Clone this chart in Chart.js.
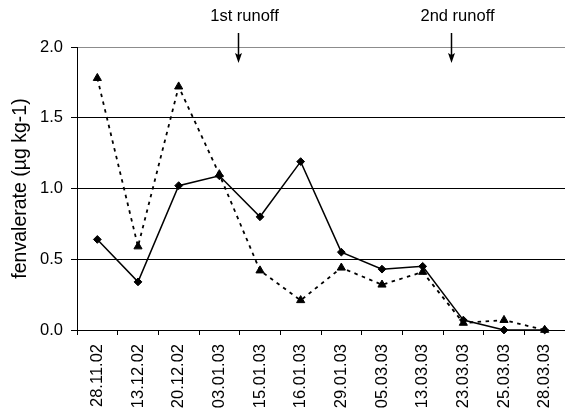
<!DOCTYPE html>
<html>
<head>
<meta charset="utf-8">
<script src="https://cdn.jsdelivr.net/npm/chart.js@4"></script>
<style>
  html, body { margin: 0; padding: 0; background: #fff; }
  #wrap { width: 565px; height: 417px; position: relative; }
</style>
</head>
<body>
<div id="wrap"><canvas id="c"></canvas></div>
<script>
// Sampling dates
const dates = ['28.11.02', '13.12.02', '20.12.02', '03.01.03', '15.01.03', '16.01.03',
               '29.01.03', '05.03.03', '13.03.03', '23.03.03', '25.03.03', '28.03.03'];

// Fenvalerate concentrations (µg kg-1)
const seriesDiamond  = [0.64, 0.34, 1.02, 1.09, 0.80, 1.19, 0.55, 0.43, 0.45, 0.07, 0.00, 0.00];
const seriesTriangle = [1.78, 0.59, 1.72, 1.10, 0.42, 0.21, 0.44, 0.32, 0.41, 0.05, 0.07, 0.00];

// Runoff events, placed on the category axis (fractional index between dates)
const runoffLabels = ['1st runoff', '2nd runoff'];
const runoffPositions = [3.47, 8.69];

const yTicks = [0, 0.5, 1.0, 1.5, 2.0];

const FONT = 'Liberation Sans, Arial, Helvetica, sans-serif';

const runoffArrows = {
  id: 'runoffArrows',
  afterDraw(chart) {
    const { ctx, scales } = chart;
    ctx.save();
    ctx.fillStyle = '#000';
    ctx.strokeStyle = '#000';
    ctx.font = '16.5px ' + FONT;
    ctx.textAlign = 'center';
    ctx.textBaseline = 'middle';
    runoffPositions.forEach((pos, i) => {
      const x = Math.round(scales.x.getPixelForValue(pos)) + 0.5;
      ctx.fillText(runoffLabels[i], x + 6, 16);
      // shaft
      ctx.lineWidth = 1.5;
      ctx.beginPath();
      ctx.moveTo(x, 33);
      ctx.lineTo(x, 56);
      ctx.stroke();
      // head
      ctx.beginPath();
      ctx.moveTo(x - 3.5, 53);
      ctx.lineTo(x, 63);
      ctx.lineTo(x + 3.5, 53);
      ctx.lineTo(x, 55);
      ctx.closePath();
      ctx.fill();
    });
    ctx.restore();
  }
};

new Chart(document.getElementById('c'), {
  type: 'line',
  data: {
    labels: dates,
    datasets: [
      {
        data: seriesTriangle,
        borderColor: '#000',
        backgroundColor: '#000',
        borderWidth: 1.8,
        borderDash: [3.5, 4.5],
        pointStyle: 'triangle',
        pointRadius: 4.7,
        pointBorderWidth: 1,
        tension: 0,
        clip: false
      },
      {
        data: seriesDiamond,
        borderColor: '#000',
        backgroundColor: '#000',
        borderWidth: 1.5,
        pointStyle: 'rectRot',
        pointRadius: 3.9,
        pointBorderWidth: 1,
        tension: 0,
        clip: false
      }
    ]
  },
  options: {
    responsive: true,
    maintainAspectRatio: false,
    animation: false,
    layout: { autoPadding: false, padding: { top: 47, right: 0, bottom: 0, left: 0 } },
    plugins: {
      legend: { display: false },
      tooltip: { enabled: false }
    },
    scales: {
      x: {
        type: 'category',
        offset: true,
        grid: {
          offset: true,
          drawOnChartArea: false,
          drawTicks: true,
          tickLength: 5,
          tickColor: '#000'
        },
        border: { display: true, color: '#000', width: 1 },
        ticks: {
          minRotation: 90,
          maxRotation: 90,
          autoSkip: false,
          padding: 9,
          color: '#000',
          font: { family: FONT, size: 16.5 }
        },
        afterFit(scale) {
          scale.height = 87;
          scale.paddingLeft = 0;
          scale.paddingRight = 0;
        }
      },
      y: {
        min: 0,
        max: 2,
        afterBuildTicks(scale) {
          scale.ticks = yTicks.map(v => ({ value: v }));
        },
        grid: {
          color: ctx => (ctx.tick && ctx.tick.value === 2 ? '#8c8c8c' : '#000'),
          lineWidth: 1,
          drawTicks: true,
          tickLength: 6,
          tickColor: '#000'
        },
        border: { display: true, color: '#000', width: 1 },
        ticks: {
          padding: 8,
          color: '#000',
          font: { family: FONT, size: 16.5 },
          callback: v => Number(v).toFixed(1)
        },
        title: {
          display: true,
          text: 'fenvalerate (µg kg-1)',
          color: '#000',
          font: { family: FONT, size: 19.5 },
          padding: { top: 8.5, bottom: 0 }
        },
        afterFit(scale) { scale.width = 77; }
      }
    }
  },
  plugins: [runoffArrows]
});
</script>
</body>
</html>
